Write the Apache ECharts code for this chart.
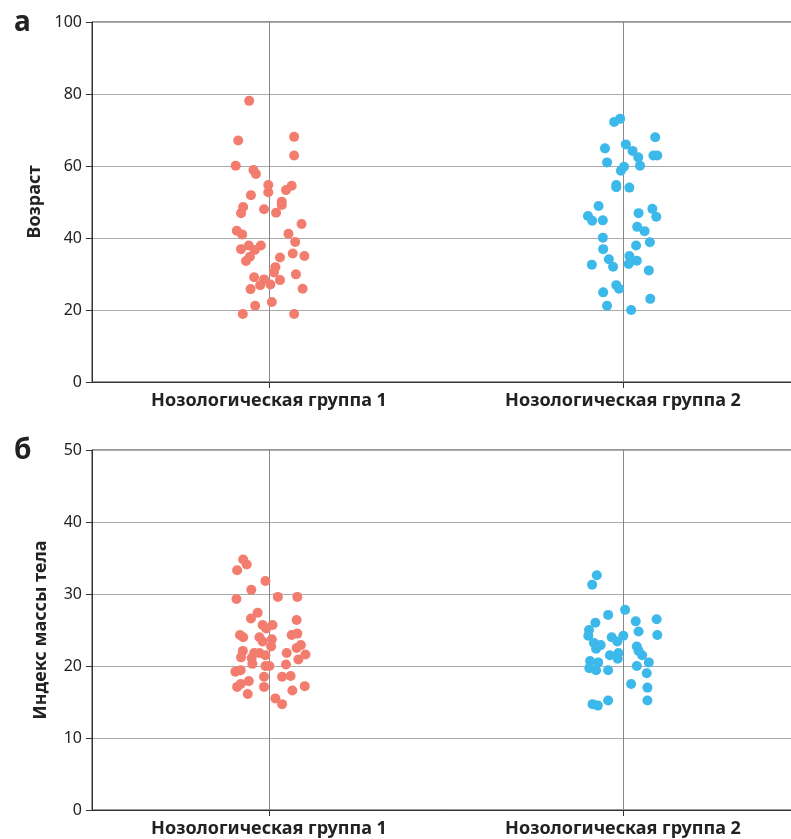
<!DOCTYPE html>
<html>
<head>
<meta charset="utf-8">
<script src="https://cdn.jsdelivr.net/npm/echarts@6/dist/echarts.min.js"></script>
<style>
  html, body { margin: 0; padding: 0; background: #fff; }
  #chart { width: 791px; height: 839px; }
</style>
</head>
<body>
<div id="chart"></div>
<script>
// категории
const groups = ['Нозологическая группа 1', 'Нозологическая группа 2'];
const ageTicks = [0, 20, 40, 60, 80, 100];
const bmiTicks = [0, 10, 20, 30, 40, 50];

// Возраст, группа 1 (значение + смещение по x в долях категории)
const ageG1 = [78.1,67.1,68.1,62.9,60.1,58.9,57.8,54.7,52.7,54.5,53.3,51.9,50.1,49.2,48.6,46.9,48.0,47.0,43.9,42.0,41.0,41.2,38.9,37.9,36.9,37.9,36.7,34.8,33.6,34.6,35.7,35.0,31.9,30.4,28.3,29.9,29.1,28.5,26.9,27.1,25.8,25.9,22.2,21.2,18.9,18.9];
const ageG1Jit = [-0.056,-0.087,0.071,0.071,-0.094,-0.044,-0.037,-0.002,-0.002,0.064,0.048,-0.051,0.036,0.036,-0.073,-0.079,-0.014,0.020,0.092,-0.091,-0.076,0.055,0.074,-0.057,-0.079,-0.023,-0.040,-0.054,-0.065,0.031,0.067,0.100,0.018,0.014,0.031,0.076,-0.042,-0.014,-0.025,0.004,-0.052,0.095,0.008,-0.039,-0.074,0.071];

// Возраст, группа 2
const ageG2 = [72.2,73.1,68.0,64.9,66.0,64.2,62.4,62.9,62.9,61.0,60.1,59.8,58.7,54.7,54.1,54.0,48.9,46.1,44.8,44.9,46.9,48.1,45.9,43.1,41.9,40.1,38.8,37.9,36.9,34.1,32.0,32.6,35.0,33.7,32.8,31.0,26.9,25.9,24.9,23.1,21.2,20.0];
const ageG2Jit = [-0.025,-0.008,0.091,-0.051,0.008,0.027,0.043,0.086,0.097,-0.045,0.048,0.003,-0.006,-0.019,-0.019,0.018,-0.069,-0.099,-0.087,-0.057,0.044,0.083,0.094,0.040,0.061,-0.057,0.076,0.037,-0.056,-0.040,-0.028,-0.088,0.018,0.039,0.016,0.073,-0.019,-0.011,-0.056,0.077,-0.045,0.023];

// ИМТ, группа 1
const bmiG1 = [34.8,34.1,33.3,31.8,30.6,29.6,29.6,29.3,27.4,26.6,26.4,25.7,25.7,25.2,24.3,24.0,24.0,23.7,24.3,24.5,23.4,22.7,22.9,22.5,22.1,21.8,21.8,21.5,21.8,21.6,21.2,21.1,20.9,20.3,20.0,20.0,20.2,19.2,19.4,18.5,18.5,18.6,17.9,17.5,17.1,17.1,17.2,16.6,16.1,15.5,14.7];
const bmiG1Jit = [-0.073,-0.063,-0.090,-0.010,-0.050,0.025,0.080,-0.092,-0.032,-0.051,0.078,-0.018,0.010,-0.008,-0.082,-0.073,-0.027,0.008,0.064,0.080,-0.018,0.006,0.090,0.078,-0.074,-0.042,-0.027,-0.010,0.050,0.103,-0.079,-0.049,0.083,-0.047,-0.010,0.001,0.048,-0.095,-0.080,-0.014,0.037,0.061,-0.057,-0.080,-0.090,-0.014,0.101,0.066,-0.060,0.018,0.037];

// ИМТ, группа 2
const bmiG2 = [32.6,31.3,27.8,27.1,26.5,26.2,26.0,24.8,24.3,25.0,24.2,24.0,24.2,23.4,23.2,22.9,22.4,22.7,22.1,21.5,21.5,21.8,21.0,20.7,20.5,19.7,19.4,19.4,20.5,20.0,19.0,17.5,17.0,15.2,15.2,14.7,14.5];
const bmiG2Jit = [-0.074,-0.087,0.006,-0.042,0.095,0.036,-0.078,0.044,0.097,-0.096,-0.098,-0.032,0.001,-0.016,-0.082,-0.063,-0.076,0.039,0.044,0.054,-0.037,-0.013,-0.015,-0.093,-0.070,-0.095,-0.076,-0.042,0.073,0.039,0.067,0.023,0.069,0.069,-0.042,-0.086,-0.071];

const RED = '#F27D6F';
const BLUE = '#3CB9EA';
const FONT = 'Noto Sans';

function pts(vals, jit, groupIdx) {
  return vals.map((v, i) => [groupIdx + 1 + jit[i], v]);
}

const myChart = echarts.init(document.getElementById('chart'));

function catAxis(gi) {
  return {
    type: 'category',
    gridIndex: gi,
    data: groups,
    boundaryGap: true,
    axisLine: { show: true, lineStyle: { color: '#333', width: 1 } },
    axisTick: { show: true, alignWithLabel: true, length: 6, lineStyle: { color: '#333' } },
    axisLabel: { color: '#222', fontSize: 18, fontWeight: 'bold', fontFamily: FONT, margin: 10 },
    splitLine: { show: true, alignWithLabel: true, lineStyle: { color: '#888', width: 1 } }
  };
}
function valXAxis(gi) {
  return { type: 'value', gridIndex: gi, min: 0.5, max: 2.5, show: false };
}
function yAxis(gi, name, ticks) {
  return {
    type: 'value',
    gridIndex: gi,
    min: ticks[0],
    max: ticks[ticks.length - 1],
    interval: ticks[1] - ticks[0],
    name: name,
    nameLocation: 'middle',
    nameGap: 42,
    nameTextStyle: { color: '#222', fontSize: 18, fontWeight: 'bold', fontFamily: FONT },
    axisLine: { show: true, lineStyle: { color: '#333', width: 1 } },
    axisTick: { show: true, length: 6, lineStyle: { color: '#333' } },
    axisLabel: { color: '#222', fontSize: 16, fontFamily: FONT, margin: 10 },
    splitLine: { show: true, lineStyle: { color: '#aaa', width: 1 } }
  };
}
function scatter(data, color, gi) {
  return {
    type: 'scatter',
    xAxisIndex: gi * 2 + 1,
    yAxisIndex: gi,
    data: data,
    symbolSize: 10,
    itemStyle: { color: color, opacity: 1 },
    z: 5
  };
}

const option = {
  animation: false,
  textStyle: { fontFamily: FONT },
  title: [
    { text: 'а', left: 9, top: 4, textStyle: { fontSize: 28, fontWeight: 'bold', color: '#222', fontFamily: FONT } },
    { text: 'б', left: 9, top: 432, textStyle: { fontSize: 28, fontWeight: 'bold', color: '#222', fontFamily: FONT } }
  ],
  grid: [
    { left: 92, top: 22, width: 708, height: 360, outerBoundsMode: 'none', show: true, borderColor: '#333', borderWidth: 1, backgroundColor: 'transparent' },
    { left: 92, top: 450, width: 708, height: 360, outerBoundsMode: 'none', show: true, borderColor: '#333', borderWidth: 1, backgroundColor: 'transparent' }
  ],
  xAxis: [catAxis(0), valXAxis(0), catAxis(1), valXAxis(1)],
  yAxis: [yAxis(0, 'Возраст', ageTicks), yAxis(1, 'Индекс массы тела', bmiTicks)],
  series: [
    scatter(pts(ageG1, ageG1Jit, 0), RED, 0),
    scatter(pts(ageG2, ageG2Jit, 1), BLUE, 0),
    scatter(pts(bmiG1, bmiG1Jit, 0), RED, 1),
    scatter(pts(bmiG2, bmiG2Jit, 1), BLUE, 1)
  ]
};

myChart.setOption(option);
</script>
</body>
</html>
